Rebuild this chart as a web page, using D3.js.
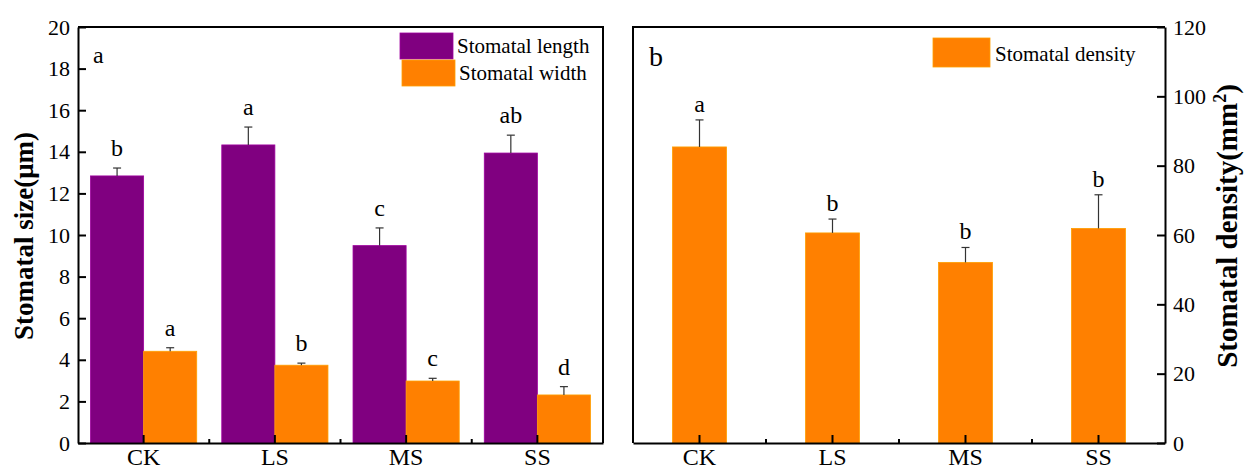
<!DOCTYPE html>
<html>
<head>
<meta charset="utf-8">
<script src="https://cdn.jsdelivr.net/npm/d3@7"></script>
<style>
body { margin: 0; background: #fff; }
svg text { font-family: "Palatino Linotype", "Book Antiqua", Palatino, "Liberation Serif", serif; fill: #000; }
</style>
</head>
<body>
<svg id="chart" width="1246" height="471"></svg>
<script>
const categories = ["CK", "LS", "MS", "SS"];
const lengthVals = [12.84, 14.33, 9.49, 13.94];
const lengthErr = [0.38, 0.86, 0.85, 0.86];
const lengthLetters = ["b", "a", "c", "ab"];
const widthVals = [4.41, 3.74, 2.98, 2.31];
const widthErr = [0.17, 0.10, 0.13, 0.40];
const widthLetters = ["a", "b", "c", "d"];
const densityVals = [85.4, 60.6, 52.1, 61.9];
const densityErr = [7.8, 4.0, 4.3, 9.7];
const densityLetters = ["a", "b", "b", "b"];
const sizeTicks = [0, 2, 4, 6, 8, 10, 12, 14, 16, 18, 20];
const densityTicks = [0, 20, 40, 60, 80, 100, 120];

const PURPLE = "#800080", ORANGE = "#FF8000";
const svg = d3.select("#chart");

function styleAxis(g, fs) {
  g.select(".domain").attr("stroke", "#000").attr("stroke-width", 2);
  g.selectAll(".tick line").attr("stroke", "#000").attr("stroke-width", 2);
  g.selectAll(".tick text").attr("font-size", fs).attr("fill", "#000");
}

// ---------- Panel a ----------
const L = { x0: 78, x1: 603, y0: 27, y1: 443 };
const xA = d3.scaleBand().domain(categories).range([L.x0, L.x1]).padding(0);
const subA = d3.scaleBand().domain(["length", "width"]).range([0, xA.bandwidth()]).paddingInner(0).paddingOuter(0.236);
const yA = d3.scaleLinear().domain([0, 20]).range([L.y1, L.y0]);

const gA = svg.append("g");
const seriesA = [
  { key: "length", vals: lengthVals, err: lengthErr, letters: lengthLetters, color: PURPLE },
  { key: "width", vals: widthVals, err: widthErr, letters: widthLetters, color: ORANGE }
];
seriesA.forEach(s => {
  const data = categories.map((c, i) => ({ c, v: s.vals[i], e: s.err[i], l: s.letters[i] }));
  gA.selectAll(null).data(data).enter().append("rect")
    .attr("x", d => xA(d.c) + subA(s.key))
    .attr("y", d => yA(d.v))
    .attr("width", subA.bandwidth())
    .attr("height", d => yA(0) - yA(d.v))
    .attr("fill", s.color)
    .attr("stroke", d3.color(s.color).brighter(0.6))
    .attr("stroke-width", 0.8);
  const cx = d => xA(d.c) + subA(s.key) + subA.bandwidth() / 2;
  gA.selectAll(null).data(data).enter().append("line")
    .attr("x1", cx).attr("x2", cx)
    .attr("y1", d => yA(d.v)).attr("y2", d => yA(d.v + d.e))
    .attr("stroke", "#333").attr("stroke-width", 1.2);
  gA.selectAll(null).data(data).enter().append("line")
    .attr("x1", d => cx(d) - 4).attr("x2", d => cx(d) + 4)
    .attr("y1", d => yA(d.v + d.e)).attr("y2", d => yA(d.v + d.e))
    .attr("stroke", "#333").attr("stroke-width", 1.2);
  gA.selectAll(null).data(data).enter().append("text")
    .attr("x", cx).attr("y", d => yA(d.v + d.e) - 12)
    .attr("text-anchor", "middle").attr("font-size", 24)
    .text(d => d.l);
});

// axes panel a
const axLA = gA.append("g").attr("transform", `translate(${L.x0},0)`)
  .call(d3.axisLeft(yA).tickValues(sizeTicks).tickSize(-8).tickSizeOuter(0).tickPadding(8));
styleAxis(axLA, 22);
const axBA = gA.append("g").attr("transform", `translate(0,${L.y1})`)
  .call(d3.axisBottom(xA).tickSize(-8).tickSizeOuter(0).tickPadding(5));
styleAxis(axBA, 24);
categories.slice(1).forEach(c => {
  gA.append("line").attr("x1", xA(c)).attr("x2", xA(c)).attr("y1", L.y1).attr("y2", L.y1 - 4)
    .attr("stroke", "#000").attr("stroke-width", 2);
});
gA.append("path").attr("d", `M${L.x0},${L.y0}H${L.x1}V${L.y1}`)
  .attr("fill", "none").attr("stroke", "#000").attr("stroke-width", 2);

gA.append("text").attr("x", 93).attr("y", 63).attr("font-size", 24).text("a");
gA.append("text").attr("transform", `translate(33,236) rotate(-90)`)
  .attr("text-anchor", "middle").attr("font-size", 27).attr("font-weight", "bold")
  .text("Stomatal size(μm)");

// legend a
const legA = [
  { label: "Stomatal length", color: PURPLE, x: 400, y: 33 },
  { label: "Stomatal width", color: ORANGE, x: 402, y: 60 }
];
legA.forEach(d => {
  gA.append("rect").attr("x", d.x).attr("y", d.y).attr("width", 53).attr("height", 26)
    .attr("fill", d.color).attr("stroke", d3.color(d.color).brighter(0.6)).attr("stroke-width", 0.8);
  gA.append("text").attr("x", d.x + 57).attr("y", d.y + 20).attr("font-size", 21).text(d.label);
});

// ---------- Panel b ----------
const R = { x0: 633, x1: 1165, y0: 27, y1: 443 };
const xB = d3.scaleBand().domain(categories).range([R.x0, R.x1]).padding(0);
const innerB = d3.scaleBand().domain(["d"]).range([0, xB.bandwidth()]).padding(0.4225);
const yB = d3.scaleLinear().domain([0, 120]).range([R.y1, R.y0]);
const gB = svg.append("g");
const dataB = categories.map((c, i) => ({ c, v: densityVals[i], e: densityErr[i], l: densityLetters[i] }));
gB.selectAll(null).data(dataB).enter().append("rect")
  .attr("x", d => xB(d.c) + innerB("d"))
  .attr("y", d => yB(d.v))
  .attr("width", innerB.bandwidth())
  .attr("height", d => yB(0) - yB(d.v))
  .attr("fill", ORANGE).attr("stroke", d3.color(ORANGE).brighter(0.6)).attr("stroke-width", 0.8);
const cxB = d => xB(d.c) + xB.bandwidth() / 2;
gB.selectAll(null).data(dataB).enter().append("line")
  .attr("x1", cxB).attr("x2", cxB)
  .attr("y1", d => yB(d.v)).attr("y2", d => yB(d.v + d.e))
  .attr("stroke", "#333").attr("stroke-width", 1.2);
gB.selectAll(null).data(dataB).enter().append("line")
  .attr("x1", d => cxB(d) - 4).attr("x2", d => cxB(d) + 4)
  .attr("y1", d => yB(d.v + d.e)).attr("y2", d => yB(d.v + d.e))
  .attr("stroke", "#333").attr("stroke-width", 1.2);
gB.selectAll(null).data(dataB).enter().append("text")
  .attr("x", cxB).attr("y", d => yB(d.v + d.e) - 8)
  .attr("text-anchor", "middle").attr("font-size", 24)
  .text(d => d.l);

const axRB = gB.append("g").attr("transform", `translate(${R.x1},0)`)
  .call(d3.axisRight(yB).tickValues(densityTicks).tickSize(-8).tickSizeOuter(0).tickPadding(8));
styleAxis(axRB, 22);
const axBB = gB.append("g").attr("transform", `translate(0,${R.y1})`)
  .call(d3.axisBottom(xB).tickSize(-8).tickSizeOuter(0).tickPadding(5));
styleAxis(axBB, 24);
categories.slice(1).forEach(c => {
  gB.append("line").attr("x1", xB(c)).attr("x2", xB(c)).attr("y1", R.y1).attr("y2", R.y1 - 4)
    .attr("stroke", "#000").attr("stroke-width", 2);
});
gB.append("path").attr("d", `M${R.x0},${R.y1}V${R.y0}H${R.x1}`)
  .attr("fill", "none").attr("stroke", "#000").attr("stroke-width", 2);

gB.append("text").attr("x", 649).attr("y", 66).attr("font-size", 28).text("b");
const tB = gB.append("text").attr("transform", `translate(1237,226) rotate(-90)`)
  .attr("text-anchor", "middle").attr("font-size", 29).attr("font-weight", "bold");
tB.append("tspan").text("Stomatal density(mm");
tB.append("tspan").attr("font-size", 18).attr("dy", -11).text("2");
tB.append("tspan").attr("dy", 11).text(")");

gB.append("rect").attr("x", 933).attr("y", 38).attr("width", 57).attr("height", 29)
  .attr("fill", ORANGE).attr("stroke", d3.color(ORANGE).brighter(0.6)).attr("stroke-width", 0.8);
gB.append("text").attr("x", 995).attr("y", 61).attr("font-size", 21).text("Stomatal density");
</script>
</body>
</html>
